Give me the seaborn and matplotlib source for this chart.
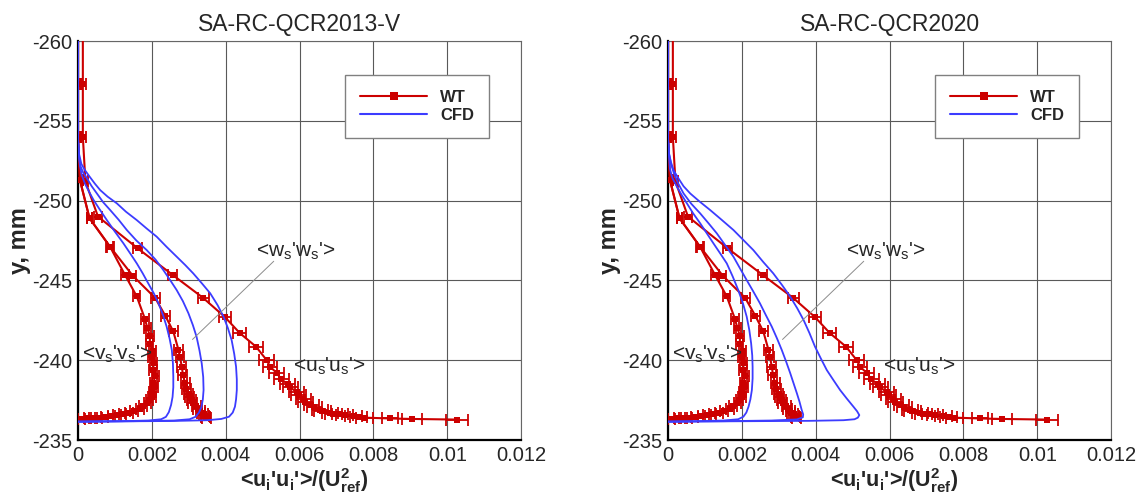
import numpy as np
import pandas as pd
import matplotlib
matplotlib.use("Agg")
import matplotlib.pyplot as plt
import seaborn as sns
from matplotlib.lines import Line2D
from matplotlib.ticker import MultipleLocator, FuncFormatter

# wind tunnel data (same in both panels), y in mm, x = <ui'ui'>/Uref^2
wt_uu_y = [-260.5, -257.3, -254.0, -251.2, -249.0, -247.0, -245.35, -243.9, -242.7, -241.7,
           -240.85, -240.0, -239.6, -239.2, -238.8, -238.5, -238.3, -238.0, -237.8, -237.6,
           -237.4, -237.2, -237.05, -236.9, -236.8, -236.7, -236.65, -236.6, -236.55, -236.5,
           -236.45, -236.4, -236.35, -236.32, -236.28]
wt_uu_x = [0.00013, 0.00013, 0.00013, 0.0002, 0.00054, 0.00162, 0.00256, 0.00339, 0.00398, 0.00438,
           0.00482, 0.00511, 0.0052, 0.00538, 0.00551, 0.00568, 0.00575, 0.00592, 0.00598, 0.0061,
           0.00616, 0.00632, 0.0064, 0.00655, 0.00662, 0.00683, 0.00692, 0.0071, 0.00722, 0.00747,
           0.0076, 0.00777, 0.00845, 0.00904, 0.01026]
wt_uu_err = [0.0, 0.00008, 0.00008, 0.00008, 0.0001, 0.00012, 0.00013, 0.00015, 0.00017, 0.00018,
             0.00018, 0.0002, 0.0002, 0.0002, 0.0002, 0.0002, 0.0002, 0.0002, 0.0002, 0.0002,
             0.0002, 0.0002, 0.0002, 0.00022, 0.00022, 0.00022, 0.00022, 0.00022, 0.00022, 0.00023,
             0.00023, 0.00023, 0.00022, 0.00027, 0.0003]

wt_vv_y = [-260.5, -257.3, -254.0, -251.3, -248.9, -247.1, -245.35, -244.0, -242.6, -242.0,
           -241.5, -241.0, -240.6, -240.2, -239.8, -239.4, -239.0, -238.6, -238.3, -238.0,
           -237.7, -237.5, -237.3, -237.1, -236.95, -236.8, -236.7, -236.6, -236.55, -236.5,
           -236.45, -236.4, -236.38, -236.35, -236.32]
wt_vv_x = [0.0, 0.0, 0.0, 0.00005, 0.00031, 0.00087, 0.00127, 0.00159, 0.00181, 0.00188,
           0.00195, 0.00194, 0.00202, 0.00199, 0.00205, 0.00203, 0.00209, 0.00204, 0.00207, 0.00201,
           0.002, 0.00193, 0.00188, 0.00176, 0.00168, 0.00152, 0.00138, 0.0012, 0.00105, 0.0009,
           0.00072, 0.00056, 0.0004, 0.00025, 0.0001]
wt_vv_err = [0.0, 0.00008, 0.00008, 0.00008, 0.00008, 0.00008, 0.0001, 0.0001, 0.0001, 0.0001,
             0.0001, 0.0001, 0.0001, 0.0001, 0.0001, 0.0001, 0.0001, 0.0001, 0.0001, 0.0001,
             0.0001, 0.0001, 0.0001, 0.0001, 0.0001, 0.0001, 0.0001, 0.0001, 0.0001, 0.0001,
             0.0001, 0.0001, 0.0001, 0.0001, 0.0001]

wt_ww_y = [-260.5, -257.3, -254.0, -251.3, -248.9, -247.1, -245.3, -243.9, -242.8, -241.8,
           -240.65, -240.2, -239.6, -239.1, -238.55, -238.2, -237.9, -237.7, -237.5, -237.3,
           -237.1, -236.95, -236.8, -236.7, -236.6, -236.5, -236.42, -236.35]
wt_ww_x = [0.0, 0.0, 0.0, 0.00005, 0.00031, 0.00087, 0.00148, 0.00209, 0.00236, 0.00258,
           0.00272, 0.00276, 0.00281, 0.00284, 0.0029, 0.00293, 0.003, 0.00303, 0.00308, 0.00311,
           0.0032, 0.00324, 0.00331, 0.00333, 0.0034, 0.00344, 0.00346, 0.00348]
wt_ww_err = [0.0, 0.00008, 0.00008, 0.00008, 0.00008, 0.0001, 0.0001, 0.00012, 0.00012, 0.00012,
             0.00012, 0.00012, 0.00012, 0.00012, 0.00012, 0.00012, 0.00012, 0.00012, 0.00012, 0.00012,
             0.00012, 0.00012, 0.00012, 0.00012, 0.00012, 0.00012, 0.00012, 0.00012]

# CFD, SA-RC-QCR2013-V
c13_vv_x = [0.0, 0.0, 0.00002, 0.00005, 0.0001, 0.00019, 0.0003, 0.00042, 0.0006, 0.00078,
            0.001, 0.00123, 0.00141, 0.00159, 0.00175, 0.0019, 0.00205, 0.00218, 0.0023, 0.0024,
            0.00248, 0.00254, 0.00257, 0.00258, 0.00258, 0.00256, 0.00252, 0.00246, 0.00238, 0.00225,
            0.0019, 0.0012, 0.0]
c13_vv_y = [-260.0, -253.8, -252.9, -252.2, -251.6, -251.05, -250.55, -250.04, -249.4, -248.78,
            -248.05, -247.32, -246.7, -246.07, -245.45, -244.82, -244.2, -243.56, -242.85, -242.1,
            -241.35, -240.64, -239.8, -238.97, -238.3, -237.7, -237.2, -236.75, -236.45, -236.3,
            -236.22, -236.18, -236.15]
c13_ww_x = [0.0, 0.0, 0.00002, 0.00006, 0.00013, 0.00024, 0.00037, 0.00051, 0.00068, 0.00087,
            0.0011, 0.00132, 0.00158, 0.00186, 0.0021, 0.00231, 0.0025, 0.00267, 0.00284, 0.00299,
            0.00311, 0.00321, 0.00329, 0.00335, 0.00339, 0.0034, 0.00338, 0.00334, 0.00327, 0.00318,
            0.00302, 0.0026, 0.0015, 0.0]
c13_ww_y = [-260.0, -253.8, -252.9, -252.2, -251.8, -251.4, -250.9, -250.45, -249.9, -249.41,
            -248.8, -248.16, -247.5, -246.9, -246.3, -245.65, -245.0, -244.4, -243.7, -242.94,
            -242.2, -241.47, -240.6, -239.8, -238.95, -238.13, -237.55, -237.05, -236.7, -236.45,
            -236.3, -236.22, -236.18, -236.15]
c13_uu_x = [0.0, 0.0, 0.00003, 0.00009, 0.00019, 0.00033, 0.00046, 0.0006, 0.0008, 0.00105,
            0.0013, 0.00159, 0.00186, 0.00213, 0.0024, 0.00267, 0.0029, 0.00312, 0.00336, 0.00358,
            0.00378, 0.00394, 0.00406, 0.00416, 0.00423, 0.00428, 0.0043, 0.0043, 0.00428, 0.00425,
            0.00419, 0.00409, 0.00388, 0.0035, 0.0025, 0.0012, 0.0]
c13_uu_y = [-260.0, -253.8, -252.9, -252.3, -251.9, -251.45, -251.05, -250.66, -250.25, -249.83,
            -249.3, -248.78, -248.25, -247.74, -247.1, -246.49, -245.97, -245.44, -244.8, -244.19,
            -243.45, -242.73, -242.0, -241.26, -240.4, -239.59, -238.8, -238.13, -237.55, -237.09,
            -236.72, -236.46, -236.32, -236.24, -236.19, -236.17, -236.15]

# CFD, SA-RC-QCR2020
c20_vv_x = [0.0, 0.0, 0.00002, 0.00005, 0.00012, 0.00024, 0.00037, 0.00051, 0.00068, 0.00087,
            0.00105, 0.00123, 0.00141, 0.00159, 0.00175, 0.0019, 0.00203, 0.00213, 0.0022, 0.00225,
            0.00228, 0.00229, 0.00229, 0.00227, 0.00223, 0.00218, 0.00212, 0.00204, 0.0019, 0.0015,
            0.0008, 0.0]
c20_vv_y = [-260.0, -253.8, -252.9, -252.0, -251.4, -250.87, -250.35, -249.83, -249.2, -248.58,
            -247.95, -247.32, -246.7, -246.07, -245.25, -244.4, -243.55, -242.73, -241.9, -241.06,
            -240.3, -239.59, -238.85, -238.13, -237.55, -237.09, -236.72, -236.46, -236.3, -236.22,
            -236.18, -236.15]
c20_ww_x = [0.0, 0.0, 0.00003, 0.00008, 0.00016, 0.00028, 0.00042, 0.00063, 0.00087, 0.0011,
            0.00132, 0.00155, 0.00177, 0.00195, 0.00213, 0.00231, 0.00249, 0.00265, 0.00281, 0.00295,
            0.00308, 0.0032, 0.00331, 0.0034, 0.00349, 0.00356, 0.00362, 0.00366, 0.00365, 0.00349,
            0.0028, 0.0015, 0.0]
c20_ww_y = [-260.0, -253.8, -252.9, -252.3, -251.7, -251.05, -250.45, -249.8, -249.2, -248.57,
            -247.95, -247.2, -246.49, -245.75, -245.02, -244.3, -243.56, -242.82, -242.1, -241.37,
            -240.64, -239.9, -239.18, -238.55, -237.92, -237.4, -236.88, -236.6, -236.42, -236.29,
            -236.22, -236.18, -236.15]
c20_uu_x = [0.0, 0.0, 0.00003, 0.00008, 0.00015, 0.00028, 0.00042, 0.0006, 0.00085, 0.00114,
            0.00145, 0.00177, 0.00204, 0.00231, 0.00258, 0.00285, 0.00309, 0.00331, 0.0035, 0.00367,
            0.00383, 0.00398, 0.00414, 0.0043, 0.00448, 0.00466, 0.00484, 0.00502, 0.00512, 0.00518,
            0.00514, 0.00505, 0.00475, 0.0038, 0.0015, 0.0]
c20_uu_y = [-260.0, -253.8, -252.9, -252.4, -251.9, -251.4, -250.9, -250.45, -249.95, -249.41,
            -248.8, -248.16, -247.53, -246.9, -246.15, -245.44, -244.7, -243.98, -243.25, -242.52,
            -241.7, -240.85, -240.1, -239.38, -238.75, -238.13, -237.6, -237.09, -236.8, -236.56,
            -236.4, -236.3, -236.24, -236.2, -236.17, -236.15]

titles = ["SA-RC-QCR2013-V", "SA-RC-QCR2020"]

RED = "#cc0000"
BLUE = "#3c3cff"

sns.set_style("white")
plt.rcParams["font.family"] = ["Liberation Sans", "DejaVu Sans"]
plt.rcParams["mathtext.fontset"] = "custom"
plt.rcParams["mathtext.rm"] = "Liberation Sans"
plt.rcParams["mathtext.bf"] = "Liberation Sans:bold"
plt.rcParams["axes.unicode_minus"] = False

fig = plt.figure(figsize=(11.41, 4.95), dpi=100)
ax1 = fig.add_axes([0.0684, 0.1111, 0.3883, 0.806])
ax2 = fig.add_axes([0.5855, 0.1111, 0.3883, 0.806])

wt = [(wt_uu_x, wt_uu_y, wt_uu_err), (wt_vv_x, wt_vv_y, wt_vv_err), (wt_ww_x, wt_ww_y, wt_ww_err)]
cfd = [[(c13_vv_x, c13_vv_y), (c13_ww_x, c13_ww_y), (c13_uu_x, c13_uu_y)],
       [(c20_vv_x, c20_vv_y), (c20_ww_x, c20_ww_y), (c20_uu_x, c20_uu_y)]]

for i, ax in enumerate([ax1, ax2]):
    for cx, cy in cfd[i]:
        sns.lineplot(x=cx, y=cy, sort=False, estimator=None, color=BLUE, lw=1.3, ax=ax, zorder=4)
    for wx, wy, we in wt:
        ax.errorbar(wx, wy, xerr=we, fmt="none", ecolor=RED, elinewidth=1.3,
                    capsize=4, capthick=1.3, zorder=3)
        sns.lineplot(x=wx, y=wy, sort=False, estimator=None, color=RED, lw=1.5,
                     marker="s", markersize=5, markeredgewidth=0, ax=ax, zorder=3)

    ax.set_xlim(0, 0.012)
    ax.set_ylim(-235, -260)
    ax.xaxis.set_major_locator(MultipleLocator(0.002))
    ax.xaxis.set_minor_locator(MultipleLocator(0.0005))
    ax.yaxis.set_major_locator(MultipleLocator(5))
    ax.yaxis.set_minor_locator(MultipleLocator(1))
    fmt = FuncFormatter(lambda v, p: f"{v:g}")
    ax.xaxis.set_major_formatter(fmt)
    ax.yaxis.set_major_formatter(fmt)
    ax.tick_params(which="both", direction="in", top=False, right=False, labelsize=14.5)
    ax.tick_params(which="major", length=6, width=1.2, pad=4)
    ax.tick_params(which="minor", length=3, width=0.8, color="0.4")
    ax.grid(True, which="major", color="0.35", lw=0.8)
    for s in ["left", "bottom"]:
        ax.spines[s].set_color("black")
        ax.spines[s].set_linewidth(1.6)
    for s in ["top", "right"]:
        ax.spines[s].set_color("0.4")
        ax.spines[s].set_linewidth(0.8)

    ax.set_title(titles[i], fontsize=16.5, pad=7)
    ax.set_xlabel("<u$_\\mathbf{i}$'u$_\\mathbf{i}$'>/(U$_\\mathbf{ref}^\\mathbf{2}$)",
                  fontsize=15.5, fontweight="bold", va="baseline")
    ax.xaxis.set_label_coords(0.51, -0.118)
    ax.set_ylabel("y, mm", fontsize=17, fontweight="bold", labelpad=1)

    # curve labels
    ax.text(0.00482, -246.8, "<w$_\\mathrm{s}$'w$_\\mathrm{s}$'>", fontsize=15, va="center", ha="left")
    ax.plot([0.0053, 0.0031], [-246.2, -241.3], color="0.55", lw=0.7, zorder=5)
    ax.text(0.0001, -240.4, "<v$_\\mathrm{s}$'v$_\\mathrm{s}$'>", fontsize=15, va="center", ha="left")
    ax.text(0.00583, -239.6, "<u$_\\mathrm{s}$'u$_\\mathrm{s}$'>", fontsize=15, va="center", ha="left")

    handles = [Line2D([], [], color=RED, lw=1.5, marker="s", markersize=5.5, markeredgewidth=0),
               Line2D([], [], color=BLUE, lw=1.5)]
    leg = ax.legend(handles, ["WT", "CFD"], loc="upper left", bbox_to_anchor=(0.603, 0.915),
                    borderaxespad=0, frameon=True, fancybox=False, edgecolor="0.5",
                    framealpha=1, prop={"weight": "bold", "size": 12}, handlelength=4.0,
                    handletextpad=0.8, borderpad=0.9, labelspacing=0.2, numpoints=1)
    leg.get_frame().set_linewidth(1.0)

fig.savefig("out.png", dpi=100)
